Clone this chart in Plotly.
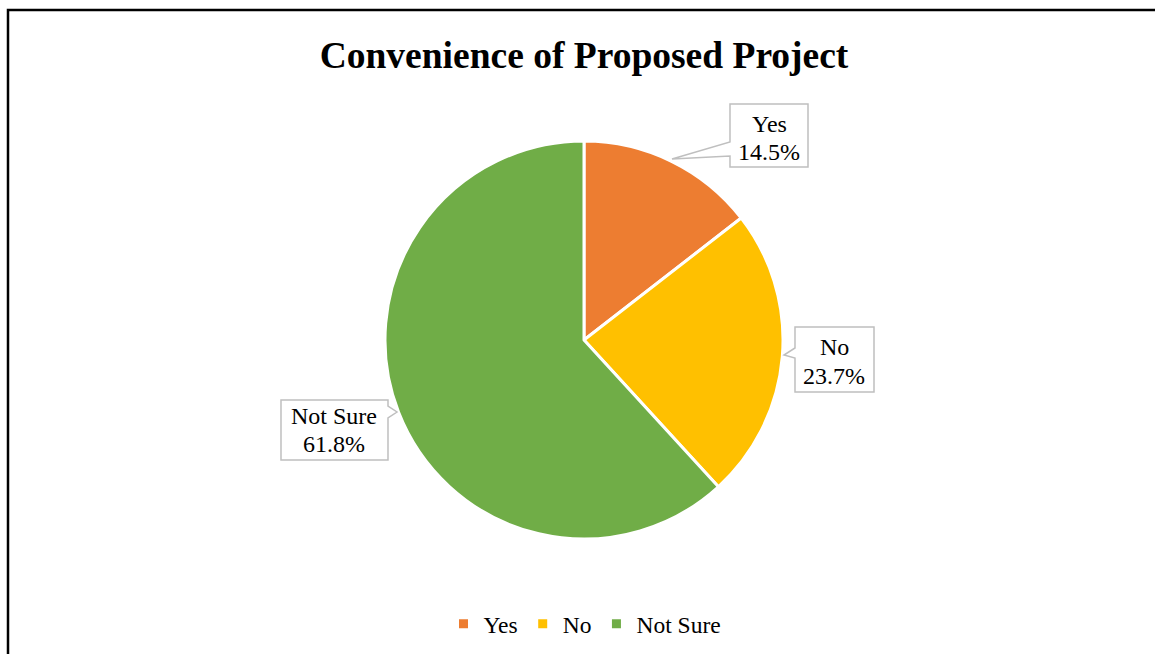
import plotly.graph_objects as go

# Survey responses
categories = ["Yes", "No", "Not Sure"]
shares = [14.5, 23.7, 61.8]
slice_colors = ["#ED7D31", "#FFC000", "#70AD47"]

W, H = 1155, 654
SERIF = "Liberation Serif, Times New Roman, serif"


def px(x):
    return x / W


def py(y):
    return 1 - y / H


fig = go.Figure(
    go.Pie(
        labels=categories,
        values=shares,
        sort=False,
        direction="clockwise",
        rotation=0,
        marker=dict(colors=slice_colors, line=dict(color="white", width=3)),
        textinfo="none",
        hoverinfo="label+percent",
        domain=dict(x=[px(385), px(783)], y=[py(539), py(141)]),
    )
)

# Callout boxes: (box left, top, right, bottom), tail points, text line centres
callouts = [
    dict(box=(730, 104, 808, 167), tail=[(730, 156), (672, 159), (730, 142)], side="left",
         lines=(124, 152), cx=769),
    dict(box=(795, 327, 874, 392), tail=[(795, 358), (784, 355), (795, 348)], side="left",
         lines=(347, 376), cx=834),
    dict(box=(281, 400, 388, 460), tail=[(388, 406), (397, 412), (388, 418)], side="right",
         lines=(416, 444), cx=334),
]

shapes = []
annotations = []
for cat, val, c in zip(categories, shares, callouts):
    l, t, r, b = c["box"]
    if c["side"] == "left":
        pts = [(l, t), (r, t), (r, b), (l, b)] + c["tail"]
    else:
        pts = [(l, t), (r, t)] + c["tail"] + [(r, b), (l, b)]
    path = "M " + " L ".join(f"{px(x):.5f},{py(y):.5f}" for x, y in pts) + " Z"
    shapes.append(dict(type="path", xref="paper", yref="paper", path=path,
                       line=dict(color="#BFBFBF", width=1.5), fillcolor="white", layer="above"))
    for txt, yy in zip([cat, f"{val:.1f}%"], c["lines"]):
        annotations.append(dict(x=px(c["cx"]), y=py(yy), xref="paper", yref="paper",
                                text=txt, showarrow=False, xanchor="center", yanchor="middle",
                                font=dict(family=SERIF, size=24, color="#000000")))

# Outer frame
shapes.append(dict(type="rect", xref="paper", yref="paper",
                   x0=px(8), y0=-0.05, x1=1.05, y1=py(10),
                   line=dict(color="black", width=2.5), fillcolor="rgba(0,0,0,0)"))

fig.update_layout(
    width=W,
    height=H,
    margin=dict(l=0, r=0, t=0, b=0),
    paper_bgcolor="white",
    plot_bgcolor="white",
    title=dict(text="<b>Convenience of Proposed Project</b>", x=px(584), xanchor="center",
               y=py(55), yanchor="middle",
               font=dict(family=SERIF, size=37.5, color="#000000")),
    showlegend=True,
    legend=dict(orientation="h", x=px(585), xanchor="center", y=py(624), yanchor="middle",
                font=dict(family=SERIF, size=23.5, color="#000000"),
                itemwidth=30, traceorder="normal"),
    shapes=shapes,
    annotations=annotations,
)

fig.write_html("out.html")
